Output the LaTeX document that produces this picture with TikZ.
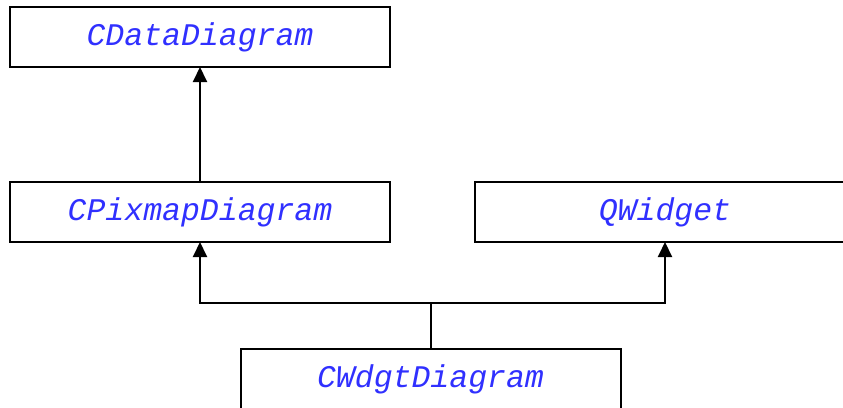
\documentclass[tikz,border=0pt]{standalone}
\usepackage{fontspec}
\setmonofont{Liberation Mono}
\usetikzlibrary{arrows.meta}
\definecolor{cls}{RGB}{48,48,255}
\begin{document}
\begin{tikzpicture}[x=1pt,y=-1pt,
  box/.style={draw=black, line width=2pt, fill=white, minimum width=380pt, minimum height=60pt,
    inner sep=0pt, outer sep=0pt, text=cls, font=\fontsize{31.5}{36}\selectfont\ttfamily\itshape},
  conn/.style={line width=2pt},
  inh/.style={conn, -{Triangle[length=15pt,width=14pt]}}]
\useasboundingbox (0,0) rectangle (843,407);
\node[box] (cdata) at (200,37) {\raisebox{1.5pt}{CDataDiagram}};
\node[box] (cpix) at (200,212) {\raisebox{1.5pt}{CPixmapDiagram}};
\node[box] (qw) at (665,212) {\raisebox{1.5pt}{QWidget}};
\node[box] (cw) at (430.5,379) {\raisebox{1.5pt}{CWdgtDiagram}};
\coordinate (j) at (430.5,303);
\draw[inh] (cpix.north) -- (cdata.south);
\draw[conn] (cw.north) -- (j);
\draw[inh] (j) -| (cpix.south);
\draw[inh] (j) -| (qw.south);
\end{tikzpicture}
\end{document}
